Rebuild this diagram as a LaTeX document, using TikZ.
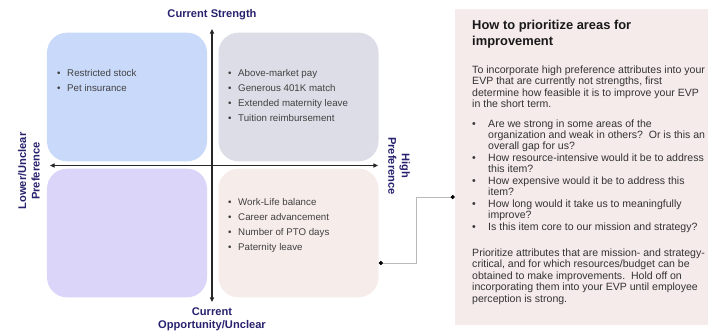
\documentclass[tikz,border=0pt]{standalone}
\usepackage{fontspec}
\setmainfont{Liberation Sans}
\usepackage{tikz}
\usetikzlibrary{arrows.meta,positioning}
\definecolor{axisnavy}{RGB}{40,34,110}
\definecolor{strongblue}{RGB}{201,217,250}
\definecolor{stronggray}{RGB}{221,221,232}
\definecolor{weaklilac}{RGB}{219,213,250}
\definecolor{weakpink}{RGB}{246,236,234}
\definecolor{notepink}{RGB}{246,235,235}
\definecolor{itemgray}{RGB}{64,64,64}
\definecolor{linkgray}{RGB}{185,185,185}
\newcommand{\bul}{\textbullet}
\tikzstyle{quadrant}=[rectangle, rounded corners=0.6cm, minimum width=4.8cm, minimum height=3.86cm, inner sep=0pt]
\tikzstyle{itemlist}=[anchor=base west, inner sep=0pt, text=itemgray, font=\fontsize{8.3}{12.8}\selectfont]
\tikzstyle{axislabel}=[align=center, inner sep=0pt, text=axisnavy, font=\fontsize{9.5}{11.5}\selectfont\bfseries]
\tikzstyle{axis}=[{Triangle[length=4pt,width=3.5pt]}-{Triangle[length=4pt,width=3.5pt]}, line width=1pt, black!85]
\tikzstyle{notebox}=[rectangle, fill=notepink, minimum width=7.59cm, minimum height=9.48cm, inner sep=0pt]
\tikzstyle{notetext}=[anchor=base west, inner sep=0pt, text=black!80, font=\fontsize{9}{9.8}\selectfont]
\tikzstyle{link}=[{Circle[length=3.5pt,color=black]}-{Circle[length=3.5pt,color=black]}, linkgray, line width=0.7pt]

\begin{document}
\begin{tikzpicture}[x=0.03cm, y=-0.03cm]
\useasboundingbox (0,0) rectangle (712,335);

% the four quadrants
\node[quadrant, fill=strongblue] (tl) at (127,97) {};
\node[quadrant, fill=stronggray] (tr) at (298.5,97) {};
\node[quadrant, fill=weaklilac] (bl) at (127,233) {};
\node[quadrant, fill=weakpink] (br) at (298.5,233) {};

\node[itemlist] (tlitems) at (57,76.3) {\begin{tabular}[t]{@{}p{0.3cm}@{}l@{}}
\bul & Restricted stock\\
\bul & Pet insurance
\end{tabular}};
\node[itemlist] (tritems) at (228,76.8) {\begin{tabular}[t]{@{}p{0.3cm}@{}l@{}}
\bul & Above-market pay\\
\bul & Generous 401K match\\
\bul & Extended maternity leave\\
\bul & Tuition reimbursement
\end{tabular}};
\node[itemlist] (britems) at (228,205.3) {\begin{tabular}[t]{@{}p{0.3cm}@{}l@{}}
\bul & Work-Life balance\\
\bul & Career advancement\\
\bul & Number of PTO days\\
\bul & Paternity leave
\end{tabular}};

% axes
\coordinate (ytop) at (212,29);
\coordinate (ybot) at (212,302);
\coordinate (xleft) at (50,165.5);
\coordinate (xright) at (378,165.5);
\draw[axis] (ybot) -- (ytop);
\draw[axis] (xleft) -- (xright);

\node[axislabel] (strength) at (212,15) {Current Strength};
\node[axislabel] (opportunity) at (212,319) {Current\\Opportunity/Unclear};
\node[axislabel, rotate=90] (lowpref) at (29,171) {Lower/Unclear\\Preference};
\node[axislabel, rotate=-90] (highpref) at (399,166) {High\\Preference};

% side note
\node[notebox] (panel) at (581.5,167) {};
\node[notetext, font=\fontsize{11}{14.5}\selectfont\bfseries, text=black!90] (howto) at (472,29) {\begin{tabular}[t]{@{}l@{}}
How to prioritize areas for\\
improvement
\end{tabular}};
\node[notetext] (intro) at (472,73.5) {\begin{tabular}[t]{@{}l@{}}
To incorporate high preference attributes into your\\
EVP that are currently not strengths, first\\
determine how feasible it is to improve your EVP\\
in the short term.
\end{tabular}};
\node[notetext] (questions) at (472,127) {\begin{tabular}[t]{@{}p{0.48cm}@{}l@{}}
\bul & Are we strong in some areas of the\\
 & organization and weak in others?\ \ Or is this an\\
 & overall gap for us?\\
\bul & How resource-intensive would it be to address\\
 & this item?\\
\bul & How expensive would it be to address this\\
 & item?\\
\bul & How long would it take us to meaningfully\\
 & improve?\\
\bul & Is this item core to our mission and strategy?
\end{tabular}};
\node[notetext, font=\fontsize{9}{9.95}\selectfont] (advice) at (472,256) {\begin{tabular}[t]{@{}l@{}}
Prioritize attributes that are mission- and strategy-\\
critical, and for which resources/budget can be\\
obtained to make improvements.\ \ Hold off on\\
incorporating them into your EVP until employee\\
perception is strong.
\end{tabular}};

% link from the quadrant to the note
\coordinate (linkstart) at ([yshift=-0.9cm]br.east);
\coordinate (linkend) at ([yshift=-0.9cm]panel.west);
\draw[link] (linkstart) -- ++(38,0) |- (linkend);

\end{tikzpicture}
\end{document}
